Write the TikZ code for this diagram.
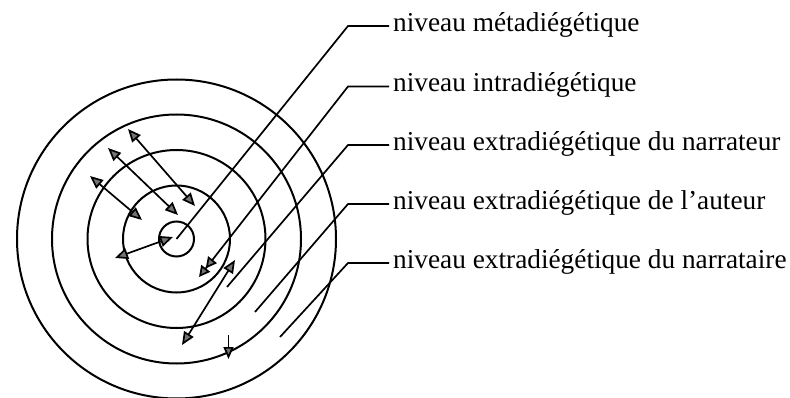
\documentclass[tikz,border=0pt]{standalone}
\usepackage{fontspec}
\setmainfont{Liberation Serif}
\usetikzlibrary{arrows.meta}
\begin{document}
\begin{tikzpicture}[x=1pt,y=-1pt,
  ring/.style={draw, circle, line width=2pt, inner sep=0pt, outer sep=0pt},
  lab/.style={anchor=base west, inner xsep=4pt, inner ysep=0pt, font=\fontsize{27.3}{30}\selectfont},
  leader/.style={line width=1.7pt},
  dbl/.style={line width=1.7pt, {Triangle[length=13pt,width=11pt,fill=black!55]}-{Triangle[length=13pt,width=11pt,fill=black!55]}},
  sgl/.style={line width=1.7pt, -{Triangle[length=12pt,width=10pt,fill=black!55]}}
]
\useasboundingbox (0,0) rectangle (790,398);
\coordinate (c) at (176.5,239);
% rings
\node[ring, minimum size=35pt] (r1) at (c) {};
\node[ring, minimum size=107pt] (r2) at (c) {};
\node[ring, minimum size=178pt] (r3) at (c) {};
\node[ring, minimum size=249pt] (r4) at (c) {};
\node[ring, minimum size=319pt] (r5) at (c) {};
% labels
\node[lab] (t1) at (389,31.5) {niveau métadiégétique};
\node[lab] (t2) at (389,92) {niveau intradiégétique};
\node[lab] (t3) at (389,150.5) {niveau extradiégétique du narrateur};
\node[lab] (t4) at (389,209.5) {niveau extradiégétique de l’auteur};
\node[lab] (t5) at (389,268.5) {niveau extradiégétique du narrataire};
% leader bends
\coordinate (k1) at (348,26);
\coordinate (k2) at (348,86.5);
\coordinate (k3) at (348,145);
\coordinate (k4) at (348,204);
\coordinate (k5) at (348,263);
% leader ends
\coordinate (e2) at (199,277);
\coordinate (e3) at (227,287);
\coordinate (e4) at (255,312);
\coordinate (e5) at (280,337);
\draw[leader] (t1.west |- k1) -- (k1) -- (c);
\draw[leader, -{Triangle[length=11pt,width=11pt,fill=black!55]Triangle[length=11pt,width=11pt,fill=black!55]}] (t2.west |- k2) -- (k2) -- (e2);
\draw[leader] (t3.west |- k3) -- (k3) -- (e3);
\draw[leader] (t4.west |- k4) -- (k4) -- (e4);
\draw[leader] (t5.west |- k5) -- (k5) -- (e5);
% double arrows
\coordinate (a1s) at (128,129); \coordinate (a1e) at (195,206);
\coordinate (a2s) at (108,148); \coordinate (a2e) at (178,215);
\coordinate (a3s) at (90,176);  \coordinate (a3e) at (142,220);
\coordinate (a4s) at (115,258); \coordinate (a4e) at (173,237);
\coordinate (a6s) at (182,345); \coordinate (a6e) at (235,260);
\coordinate (a7s) at (228.5,335); \coordinate (a7e) at (228.5,359);
\draw[dbl] (a1s) -- (a1e);
\draw[dbl] (a2s) -- (a2e);
\draw[dbl] (a3s) -- (a3e);
\draw[dbl] (a4s) -- (a4e);
\draw[dbl] (a6s) -- (a6e);
\draw[sgl] (a7s) -- (a7e);
\end{tikzpicture}
\end{document}
